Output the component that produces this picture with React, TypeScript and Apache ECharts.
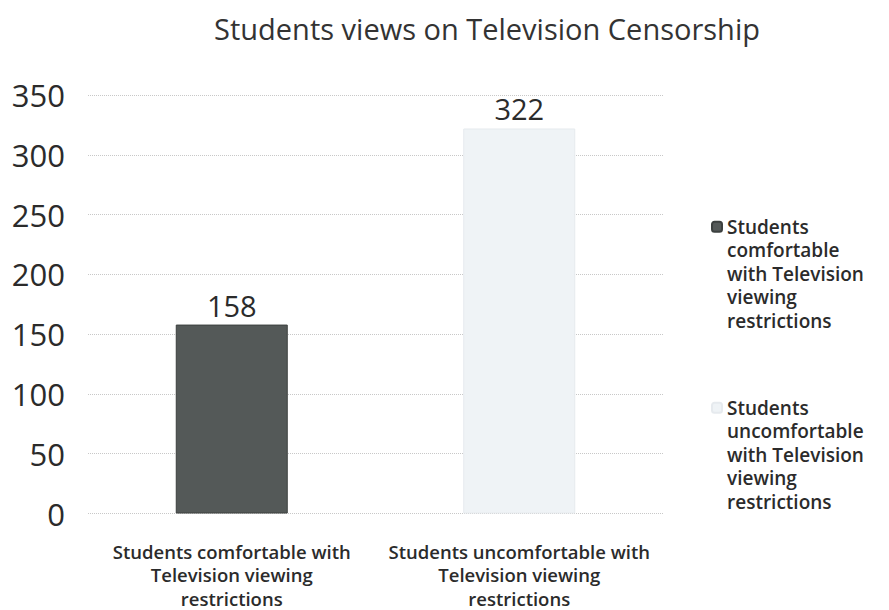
import React, { useEffect, useRef } from "react";
import * as echarts from "echarts";

const categories = [
  "Students comfortable with\nTelevision viewing\nrestrictions",
  "Students uncomfortable with\nTelevision viewing\nrestrictions",
];
const seriesNames = [
  "Students comfortable with Television viewing restrictions",
  "Students uncomfortable with Television viewing restrictions",
];
const legendLabels = [
  "Students\ncomfortable\nwith Television\nviewing\nrestrictions",
  "Students\nuncomfortable\nwith Television\nviewing\nrestrictions",
];
const comfortableValues = [158, "-"];
const uncomfortableValues = ["-", 322];
const yTicks = { min: 0, max: 350, interval: 50 };

const FONT = "'Open Sans', Lato, sans-serif";
const TEXT = "#2b2b2b";

export default function App() {
  const ref = useRef<HTMLDivElement>(null);
  useEffect(() => {
    document.body.style.margin = "0";
    const chart = echarts.init(ref.current!, null, { renderer: "svg" });
    const legendFmt = (name: string) =>
      "\n\n\n\n" + legendLabels[seriesNames.indexOf(name)];
    const legendBase = {
      orient: "vertical",
      left: 706,
      itemWidth: 10,
      itemHeight: 10,
      itemGap: 0,
      selectedMode: false,
      formatter: legendFmt,
      textStyle: {
        fontFamily: FONT,
        fontSize: 19,
        fontWeight: 600,
        color: TEXT,
        lineHeight: 23.5,
      },
    };
    chart.setOption({
      animation: false,
      backgroundColor: "#ffffff",
      title: {
        text: "Students views on Television Censorship",
        left: 482,
        textAlign: "center",
        top: 9,
        textStyle: {
          fontFamily: FONT,
          fontSize: 29,
          fontWeight: "normal",
          color: "#333",
        },
      },
      legend: [
        { ...legendBase, top: 116, data: [seriesNames[0]] },
        { ...legendBase, top: 297, data: [seriesNames[1]] },
      ],
      grid: { left: 88, right: 226, top: 95, bottom: 95 },
      xAxis: {
        type: "category",
        data: categories,
        axisLine: { show: false },
        axisTick: { show: false },
        axisLabel: {
          interval: 0,
          margin: 26,
          fontFamily: FONT,
          fontSize: 18.5,
          fontWeight: 600,
          color: TEXT,
          lineHeight: 23.5,
        },
      },
      yAxis: {
        type: "value",
        min: yTicks.min,
        max: yTicks.max,
        interval: yTicks.interval,
        axisLine: { show: false },
        axisTick: { show: false },
        axisLabel: {
          margin: 23,
          fontFamily: FONT,
          fontSize: 31,
          color: TEXT,
        },
        splitLine: {
          lineStyle: { color: "#c8c8c8", type: "dotted", width: 1 },
        },
      },
      series: [
        {
          name: seriesNames[0],
          type: "bar",
          stack: "all",
          barWidth: 112,
          data: comfortableValues,
          itemStyle: {
            color: "#545958",
            borderColor: "#3c403f",
            borderWidth: 1,
          },
          label: {
            show: true,
            position: "top",
            distance: 5,
            fontFamily: FONT,
            fontSize: 29,
            color: TEXT,
          },
        },
        {
          name: seriesNames[1],
          type: "bar",
          stack: "all",
          barWidth: 112,
          data: uncomfortableValues,
          itemStyle: {
            color: "#eff3f6",
            borderColor: "#e6eaee",
            borderWidth: 1,
          },
          label: {
            show: true,
            position: "top",
            distance: 5,
            fontFamily: FONT,
            fontSize: 29,
            color: TEXT,
          },
        },
      ],
    });
    return () => chart.dispose();
  }, []);
  return <div ref={ref} style={{ width: 889, height: 610 }} />;
}
